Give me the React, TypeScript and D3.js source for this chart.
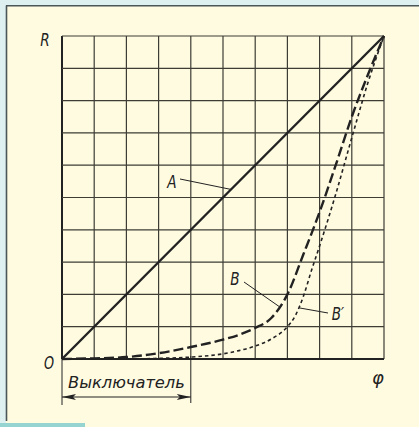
import React from 'react';
import * as d3 from 'd3';

// grid: 10 x 10 cells, units 0..10 on both axes
const gridTicks = d3.range(0, 11);

// A: straight line
const lineA = [
  { x: 0, y: 0 },
  { x: 10, y: 10 },
];

// B: long dashes
const bX = [0, 1, 2, 3, 4, 5, 5.5, 6, 6.5, 7, 7.5, 8, 8.5, 9, 9.5, 10];
const bY = [0, 0.02, 0.06, 0.18, 0.37, 0.6, 0.75, 0.96, 1.27, 2.0, 3.25, 4.55, 6.0, 7.5, 8.8, 10];

// B': short dashes
const b2X = [0, 2, 3, 4, 5, 5.5, 6, 6.5, 7, 7.25, 7.5, 7.75, 8, 8.5, 9, 9.5, 10];
const b2Y = [0, 0, 0.02, 0.06, 0.16, 0.26, 0.4, 0.62, 1.0, 1.35, 1.95, 2.75, 3.5, 5.1, 6.85, 8.55, 10];

// "Выключатель" span along the x axis
const switchSpan = [0, 4];

const W = 419;
const H = 427;
const margin = { left: 62, top: 36, right: 35, bottom: 68 };

const App = () => {
  const x = d3.scaleLinear().domain([0, 10]).range([margin.left, W - margin.right]);
  const y = d3.scaleLinear().domain([0, 10]).range([H - margin.bottom, margin.top]);

  const line = d3
    .line<{ x: number; y: number }>()
    .x(d => x(d.x))
    .y(d => y(d.y))
    .curve(d3.curveMonotoneX);

  const bData = bX.map((v, i) => ({ x: v, y: bY[i] }));
  const b2Data = b2X.map((v, i) => ({ x: v, y: b2Y[i] }));

  const font = "'DejaVu Sans', sans-serif";
  const ink = '#222';
  const arrowY = y(0) + 38;

  return (
    <svg
      width={W}
      height={H}
      style={{ position: 'absolute', left: 0, top: 0, display: 'block' }}
    >
      {/* page frame */}
      <rect x={0} y={0} width={W} height={H} fill="#fffbe1" />
      <rect x={0} y={0} width={W} height={5} fill="#dff0f1" />
      <rect x={0} y={0} width={6} height={423} fill="#dff0f1" />
      <line x1={6.5} y1={5.5} x2={6.5} y2={421} stroke="#4a5658" strokeWidth={1.6} />
      <line x1={6} y1={5.8} x2={W} y2={5.8} stroke="#4a5658" strokeWidth={1.6} />
      <rect x={0} y={423} width={85} height={4} fill="#96d4d1" />

      {/* grid */}
      {gridTicks.map(t => (
        <line
          key={'v' + t}
          x1={x(t)}
          x2={x(t)}
          y1={y(0)}
          y2={y(10)}
          stroke={t === 0 ? ink : '#3d3d35'}
          strokeWidth={t === 0 ? 2 : 1.2}
        />
      ))}
      {gridTicks.map(t => (
        <line
          key={'h' + t}
          x1={x(0)}
          x2={x(10)}
          y1={y(t)}
          y2={y(t)}
          stroke={t === 0 ? ink : '#3d3d35'}
          strokeWidth={t === 0 ? 2 : 1.2}
        />
      ))}

      {/* curves */}
      <path d={line(lineA) || ''} fill="none" stroke={ink} strokeWidth={2.4} />
      <path
        d={line(bData) || ''}
        fill="none"
        stroke={ink}
        strokeWidth={2.4}
        strokeDasharray="10,4"
      />
      <path
        d={line(b2Data) || ''}
        fill="none"
        stroke={ink}
        strokeWidth={1.6}
        strokeDasharray="3.5,3"
      />

      {/* leaders */}
      <line x1={180} y1={179} x2={x(5.25)} y2={y(5.25)} stroke={ink} strokeWidth={1} />
      <line x1={244} y1={282} x2={x(6.75)} y2={y(1.62)} stroke={ink} strokeWidth={1} />
      <line x1={328} y1={313} x2={x(7.38)} y2={y(1.58)} stroke={ink} strokeWidth={1} />

      {/* labels */}
      <g fontFamily={font} fontStyle="italic" fontWeight={200} fill={ink} fontSize={17}>
        <text x={45} y={46} textAnchor="middle" transform="translate(45,0) scale(0.8,1) translate(-45,0)">R</text>
        <text x={49} y={369} textAnchor="middle" transform="translate(49,0) scale(0.75,1) translate(-49,0)">O</text>
        <text x={172} y={188} textAnchor="middle" transform="translate(172,0) scale(0.8,1) translate(-172,0)">A</text>
        <text x={235} y={285} textAnchor="middle" transform="translate(235,0) scale(0.8,1) translate(-235,0)">B</text>
        <text x={338} y={320} textAnchor="middle" transform="translate(338,0) scale(0.8,1) translate(-338,0)">B′</text>
        <text x={378} y={384} textAnchor="middle" fontSize={18}>φ</text>
        <text
          x={(x(switchSpan[0]) + x(switchSpan[1])) / 2}
          y={y(0) + 29}
          textAnchor="middle"
          fontSize={16}
          textLength={x(switchSpan[1]) - x(switchSpan[0]) - 12}
          lengthAdjust="spacingAndGlyphs"
        >
          Выключатель
        </text>
      </g>

      {/* switch span marker */}
      <line x1={x(switchSpan[0])} x2={x(switchSpan[0])} y1={y(0)} y2={y(0) + 46} stroke={ink} strokeWidth={1} />
      <line x1={x(switchSpan[1])} x2={x(switchSpan[1])} y1={y(0) - 3} y2={y(0) + 44} stroke={ink} strokeWidth={1} />
      <line x1={x(switchSpan[0])} x2={x(switchSpan[1])} y1={arrowY} y2={arrowY} stroke={ink} strokeWidth={1.2} />
      <path
        d={`M${x(switchSpan[0])},${arrowY} l14,-3 l-3,3 l3,3 z`}
        fill={ink}
      />
      <path
        d={`M${x(switchSpan[1])},${arrowY} l-14,-3 l3,3 l-3,3 z`}
        fill={ink}
      />
    </svg>
  );
};

export default App;
